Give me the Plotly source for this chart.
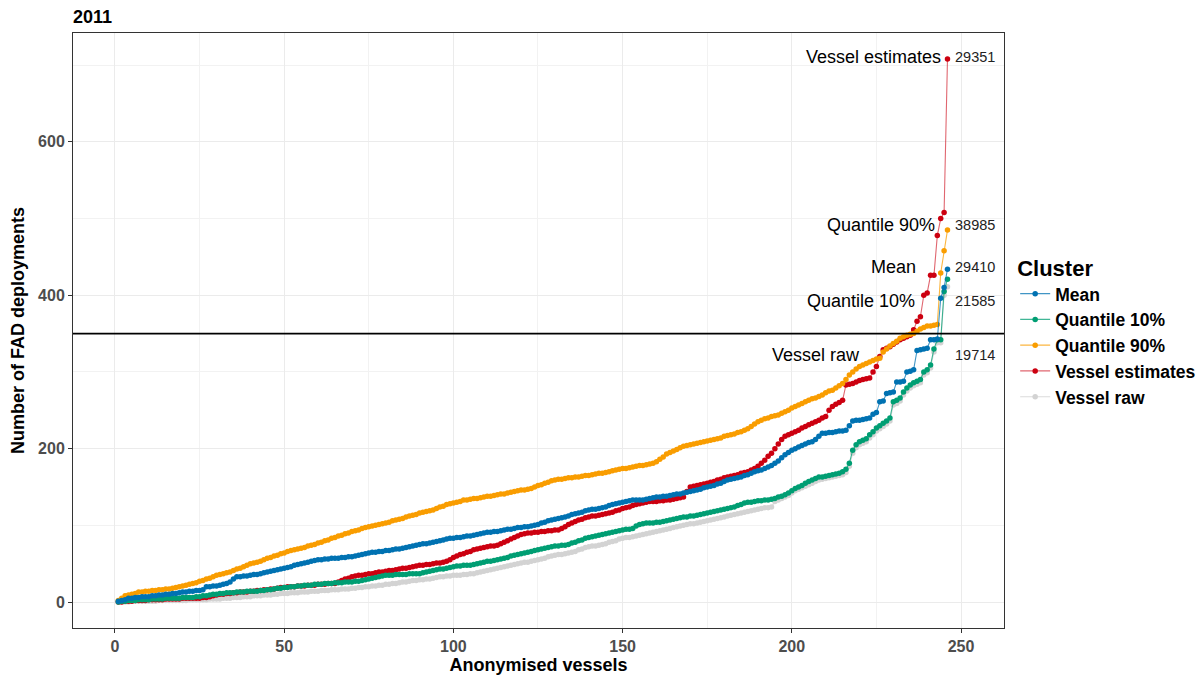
import plotly.graph_objects as go

# ---------------- data ----------------
mean_vals = [
    1, 2, 3, 5, 5, 6, 6, 7, 7, 7,
    8, 8, 9, 9, 10, 10, 11, 11, 12, 13,
    13, 14, 14, 15, 15, 16, 20, 20, 21, 21,
    22, 23, 24, 26, 30, 33, 33, 34, 34, 35,
    36, 36, 37, 38, 39, 40, 41, 42, 43, 44,
    45, 46, 48, 49, 50, 51, 52, 53, 54, 55,
    55, 56, 56, 57, 57, 57, 58, 58, 59, 59,
    60, 61, 62, 63, 64, 65, 65, 66, 66, 67,
    67, 68, 69, 69, 70, 71, 72, 73, 74, 75,
    76, 76, 77, 78, 79, 80, 81, 82, 83, 83,
    84, 84, 85, 86, 86, 87, 88, 89, 90, 91,
    91, 92, 92, 93, 94, 95, 95, 96, 97, 97,
    98, 98, 99, 100, 101, 103, 104, 106, 107, 108,
    109, 110, 111, 112, 114, 115, 116, 117, 119, 120,
    121, 121, 122, 123, 124, 126, 127, 128, 129, 130,
    131, 132, 133, 133, 133, 133, 134, 135, 136, 137,
    137, 138, 138, 139, 140, 141, 141, 142, 143, 144,
    145, 146, 147, 149, 150, 151, 152, 154, 155, 157,
    159, 160, 161, 162, 163, 165, 166, 168, 170, 171,
    172, 174, 176, 178, 181, 184, 188, 192, 195, 198,
    200, 202, 204, 206, 208, 209, 212, 216, 220, 220,
    221, 221, 222, 223, 223, 224, 230, 236, 237, 237,
    238, 239, 240, 245, 247, 261, 262, 272, 273, 274,
    287, 287, 288, 300, 301, 303, 328, 329, 330, 331,
    342, 342, 343, 396, 410, 434,
]

q10_vals = [
    0, 1, 1, 2, 2, 2, 3, 3, 3, 3,
    4, 4, 4, 4, 5, 5, 5, 5, 5, 6,
    6, 6, 6, 7, 7, 8, 8, 9, 10, 10,
    11, 11, 12, 12, 12, 13, 13, 13, 14, 14,
    14, 14, 15, 15, 16, 16, 17, 18, 18, 19,
    19, 20, 20, 21, 21, 22, 22, 22, 23, 23,
    23, 24, 24, 24, 25, 25, 25, 26, 26, 26,
    27, 27, 28, 29, 30, 31, 32, 33, 34, 35,
    35, 35, 36, 36, 36, 36, 37, 37, 37, 37,
    38, 39, 40, 41, 42, 43, 43, 44, 45, 46,
    47, 47, 48, 48, 48, 49, 50, 51, 52, 53,
    53, 54, 55, 56, 57, 58, 60, 61, 62, 63,
    64, 65, 66, 67, 68, 69, 70, 71, 72, 73,
    73, 74, 74, 75, 77, 78, 80, 81, 83, 84,
    85, 86, 87, 88, 89, 90, 91, 92, 93, 94,
    95, 95, 96, 99, 101, 102, 103, 103, 103, 104,
    104, 105, 106, 107, 108, 109, 110, 111, 111, 112,
    112, 113, 114, 115, 116, 117, 118, 119, 120, 121,
    122, 123, 124, 126, 127, 129, 130, 130, 131, 132,
    132, 133, 133, 134, 135, 137, 138, 140, 142, 145,
    148, 150, 152, 155, 157, 159, 161, 163, 163, 164,
    165, 166, 167, 168, 170, 173, 181, 198, 205, 209,
    211, 213, 218, 222, 227, 230, 233, 236, 240, 261,
    263, 266, 274, 279, 283, 286, 288, 290, 300, 303,
    309, 330, 342, 342, 405, 421,
]

q90_vals = [
    2, 5, 8, 9, 10, 11, 13, 13, 14, 14,
    15, 15, 16, 16, 17, 17, 18, 19, 20, 21,
    22, 23, 24, 25, 27, 28, 30, 31, 33, 35,
    36, 37, 38, 39, 41, 43, 44, 46, 48, 50,
    51, 52, 53, 55, 57, 58, 60, 61, 63, 64,
    66, 67, 68, 69, 70, 71, 73, 74, 75, 77,
    78, 80, 81, 83, 84, 86, 87, 89, 90, 92,
    93, 94, 96, 97, 98, 99, 100, 101, 102, 103,
    104, 106, 107, 108, 109, 111, 112, 113, 114, 116,
    117, 118, 119, 120, 122, 124, 125, 127, 128, 129,
    130, 131, 133, 133, 134, 135, 135, 136, 137, 138,
    138, 139, 140, 141, 141, 142, 143, 144, 145, 146,
    146, 147, 148, 150, 152, 153, 155, 156, 158, 159,
    160, 160, 161, 162, 162, 163, 163, 164, 165, 165,
    166, 167, 168, 168, 169, 170, 171, 172, 173, 174,
    174, 175, 176, 177, 178, 178, 179, 180, 181, 183,
    186, 189, 193, 195, 197, 199, 201, 203, 204, 205,
    206, 207, 208, 209, 210, 211, 212, 213, 214, 216,
    217, 218, 219, 221, 222, 224, 226, 229, 232, 235,
    237, 239, 240, 242, 243, 244, 246, 248, 250, 253,
    255, 257, 259, 261, 263, 265, 266, 268, 270, 273,
    275, 276, 279, 282, 285, 290, 296, 300, 304, 307,
    309, 311, 313, 315, 317, 318, 326, 330, 334, 337,
    340, 344, 346, 348, 349, 350, 353, 356, 358, 360,
    360, 361, 362, 429, 458, 485,
]

est_vals = [
    0, 0, 1, 1, 1, 2, 2, 2, 2, 3,
    3, 3, 3, 3, 4, 4, 4, 4, 4, 5,
    5, 5, 5, 5, 5, 6, 6, 7, 8, 9,
    10, 10, 11, 11, 12, 12, 13, 13, 13, 14,
    14, 15, 15, 16, 16, 17, 17, 18, 19, 19,
    20, 20, 20, 21, 21, 21, 22, 22, 22, 23,
    23, 23, 24, 24, 24, 26, 28, 30, 31, 33,
    34, 35, 35, 36, 37, 37, 38, 39, 39, 40,
    41, 41, 42, 43, 44, 44, 45, 46, 47, 48,
    48, 49, 49, 50, 51, 51, 52, 53, 55, 58,
    60, 62, 63, 65, 66, 68, 69, 70, 71, 72,
    73, 73, 74, 76, 78, 80, 82, 84, 86, 88,
    89, 90, 90, 91, 91, 92, 92, 93, 93, 94,
    94, 96, 98, 101, 103, 105, 107, 108, 110, 111,
    112, 112, 113, 114, 115, 116, 117, 119, 120, 122,
    123, 124, 126, 127, 128, 129, 130, 131, 131, 131,
    132, 132, 133, 133, 134, 135, 136, 137, 144, 150,
    151, 152, 153, 154, 155, 156, 157, 159, 160, 162,
    163, 164, 165, 166, 168, 169, 170, 172, 174, 177,
    181, 185, 190, 194, 200, 206, 212, 216, 218, 220,
    222, 224, 227, 229, 231, 233, 235, 237, 240, 242,
    250, 255, 258, 260, 263, 283, 284, 285, 287, 289,
    290, 291, 292, 300, 307, 320, 329, 331, 333, 336,
    339, 342, 344, 346, 348, 355, 366, 372, 400, 403,
    426, 426, 478, 500, 508, 708,
]

raw_vals = [
    0, 0, 0, 0, 1, 1, 1, 1, 1, 1,
    1, 1, 2, 2, 2, 2, 2, 2, 2, 2,
    2, 3, 3, 3, 3, 3, 3, 4, 4, 4,
    4, 5, 5, 5, 6, 6, 6, 7, 7, 7,
    8, 8, 8, 9, 9, 9, 10, 10, 11, 11,
    11, 12, 12, 12, 13, 13, 13, 14, 14, 14,
    15, 15, 15, 16, 16, 16, 17, 17, 17, 18,
    18, 19, 19, 20, 20, 21, 21, 22, 22, 23,
    23, 24, 24, 25, 26, 26, 27, 28, 28, 29,
    29, 30, 30, 31, 32, 33, 33, 34, 34, 35,
    35, 35, 36, 36, 37, 37, 38, 39, 40, 41,
    42, 43, 44, 45, 46, 47, 48, 49, 50, 51,
    52, 52, 53, 54, 55, 56, 57, 59, 60, 61,
    62, 62, 63, 64, 65, 66, 68, 69, 71, 72,
    73, 73, 74, 75, 76, 78, 79, 80, 82, 83,
    84, 84, 85, 86, 87, 88, 89, 90, 91, 92,
    93, 94, 95, 96, 97, 98, 99, 100, 101, 102,
    102, 103, 104, 105, 106, 107, 108, 109, 110, 111,
    112, 113, 114, 115, 116, 117, 118, 119, 120, 121,
    122, 123, 123, 124, 131, 133, 135, 137, 139, 142,
    145, 147, 149, 151, 153, 155, 157, 159, 160, 161,
    162, 163, 164, 165, 166, 169, 177, 194, 201, 205,
    207, 209, 214, 218, 223, 226, 229, 232, 236, 257,
    259, 262, 270, 275, 279, 282, 284, 286, 296, 299,
    305, 326, 338, 338, 400, 411,
]

cluster_names = ["Mean", "Quantile 10%", "Quantile 90%", "Vessel estimates", "Vessel raw"]
cluster_totals = ["29410", "21585", "38985", "29351", "19714"]

# label placement (text positions, in data units)
label_right_x = [237.3, 236.9, 242.9, 244.7, 220.7]
label_y = [437, 393, 492, 711, 322]
total_x = 247.6

threshold = 350
title_text = "2011"

# ---------------- styling ----------------
series_vals = [mean_vals, q10_vals, q90_vals, est_vals, raw_vals]
colors = ["#0072B2", "#009E73", "#F99D00", "#CC0010", "#D3D3D3"]
line_colors = ["rgba(0,114,178,0.75)", "rgba(0,158,115,0.75)", "rgba(249,157,0,0.75)",
               "rgba(204,0,16,0.6)", "rgba(211,211,211,0.8)"]
draw_order = [4, 3, 2, 1, 0]
FONT = "Liberation Sans, Arial, sans-serif"

fig = go.Figure()
for i in draw_order:
    vals = series_vals[i]
    fig.add_trace(go.Scatter(
        x=list(range(1, len(vals) + 1)), y=vals,
        mode="lines+markers", name=cluster_names[i],
        line=dict(color=line_colors[i], width=1.1),
        marker=dict(color=colors[i], size=5.5, line=dict(width=0)),
        legendrank=i + 1,
        hoverinfo="skip",
    ))

fig.add_hline(y=threshold, line=dict(color="black", width=1.6), layer="above")

annotations = []
for name, tot, lx, ly in zip(cluster_names, cluster_totals, label_right_x, label_y):
    annotations.append(dict(x=lx, y=ly, xref="x", yref="y", text=name, showarrow=False,
                            xanchor="right", yanchor="middle",
                            font=dict(family=FONT, size=18, color="black")))
    annotations.append(dict(x=total_x, y=ly, xref="x", yref="y", text=tot, showarrow=False,
                            xanchor="left", yanchor="middle",
                            font=dict(family=FONT, size=14.5, color="#222222")))

fig.update_layout(
    width=1201, height=675,
    margin=dict(l=73, r=197, t=33, b=47, autoexpand=False),
    paper_bgcolor="white", plot_bgcolor="white",
    font=dict(family=FONT, color="black"),
    title=dict(text="<b>%s</b>" % title_text, x=73 / 1201, xanchor="left",
               y=1 - 17 / 675, yanchor="middle",
               font=dict(family=FONT, size=18, color="black")),
    showlegend=True,
    legend=dict(
        title=dict(text="<b>Cluster</b>", font=dict(family=FONT, size=22, color="black")),
        font=dict(family=FONT, size=17.5, color="black", weight="bold"),
        x=1.012, xanchor="left", y=0.64, yanchor="top",
        bgcolor="rgba(0,0,0,0)", tracegroupgap=0, itemwidth=30,
    ),
    annotations=annotations,
)

fig.update_xaxes(
    range=[-12.4, 262.7], tickmode="array", tickvals=[0, 50, 100, 150, 200, 250],
    ticks="outside", ticklen=4, tickcolor="#333333", tickwidth=1,
    tickfont=dict(family=FONT, size=16, color="#4D4D4D", weight="bold"),
    showgrid=True, gridcolor="#EBEBEB", gridwidth=1,
    minor=dict(dtick=25, tick0=0, showgrid=True, gridcolor="#F2F2F2", gridwidth=0.8, ticks=""),
    zeroline=False, showline=True, linecolor="#333333", linewidth=1, mirror=True,
    automargin=False,
    title=dict(text="<b>Anonymised vessels</b>", font=dict(family=FONT, size=18, color="black"),
               standoff=6),
)
fig.update_yaxes(
    range=[-33.9, 742], tickmode="array", tickvals=[0, 200, 400, 600],
    ticks="outside", ticklen=4, tickcolor="#333333", tickwidth=1,
    tickfont=dict(family=FONT, size=16, color="#4D4D4D", weight="bold"),
    showgrid=True, gridcolor="#EBEBEB", gridwidth=1,
    minor=dict(dtick=100, tick0=0, showgrid=True, gridcolor="#F2F2F2", gridwidth=0.8, ticks=""),
    zeroline=False, showline=True, linecolor="#333333", linewidth=1, mirror=True,
    automargin=False,
    title=dict(text="<b>Number of FAD deployments</b>", font=dict(family=FONT, size=18, color="black"),
               standoff=8),
)

fig.write_html("out.html")
